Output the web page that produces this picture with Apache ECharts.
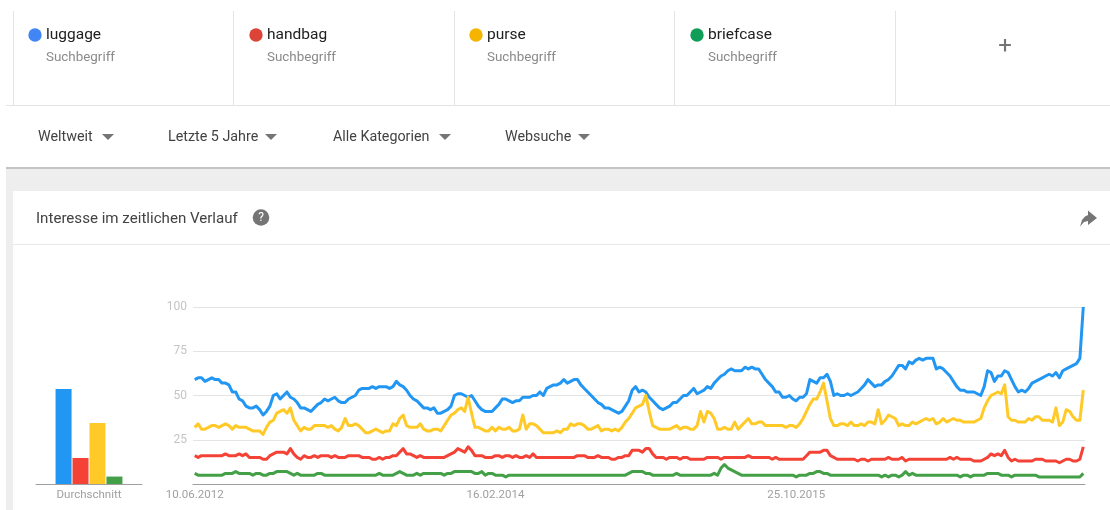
<!DOCTYPE html>
<html><head><meta charset="utf-8">
<style>html,body{margin:0;padding:0;background:#fff}#c{width:1110px;height:510px}</style>
<script src="https://cdn.jsdelivr.net/npm/echarts@6/dist/echarts.min.js"></script>
</head><body><div id="c"></div>
<script>
const terms = ['luggage','handbag','purse','briefcase'];
const termSub = 'Suchbegriff';
const filters = ['Weltweit','Letzte 5 Jahre','Alle Kategorien','Websuche'];
const cardTitle = 'Interesse im zeitlichen Verlauf';
const lineColors = ['#2196f3','#f44336','#ffca28','#43a047'];
const dotColors = ['#4285f4','#db4437','#f4b400','#0f9d58'];
const averages = [53.7,14.7,34.5,4.2];
const startDate = Date.UTC(2012,5,10);
const luggage = [
59,60,60,58,59,60,59,59,57,57,
56,52,52,48,47,44,43,43,44,42,
39,41,44,50,51,48,50,52,49,48,
46,43,43,42,41,43,45,46,48,47,
48,49,47,46,46,48,49,50,53,54,
54,54,55,54,55,55,55,54,55,58,
56,55,53,50,48,47,45,43,43,42,
43,40,40,41,42,44,50,51,51,50,
49,50,47,44,42,41,41,41,43,45,
48,48,47,46,47,47,49,49,49,50,
50,52,50,54,55,56,56,57,59,57,
58,59,59,56,54,52,50,48,46,45,
43,43,42,41,40,41,44,47,53,55,
52,53,52,49,47,45,43,42,43,44,
46,46,48,50,50,52,54,51,52,53,
55,54,57,59,61,62,64,65,64,64,
64,66,65,66,65,65,62,59,57,55,
52,52,49,49,50,48,47,49,49,51,
59,58,57,60,60,62,58,50,51,50,
50,51,50,51,52,54,56,59,57,55,
56,56,58,59,61,64,67,67,65,69,
68,70,71,70,71,71,71,65,66,65,
63,61,58,55,53,53,52,52,52,51,
50,55,64,63,58,61,61,64,63,59,
55,52,53,52,54,57,58,59,60,61,
62,61,63,60,64,65,66,67,68,71,
100];
const handbag = [
16,15,16,16,16,16,16,16,16,17,
16,16,16,17,16,17,15,15,15,15,
14,14,16,17,18,18,18,17,20,17,
15,14,16,15,15,16,15,16,16,16,
15,16,15,15,15,16,16,16,16,15,
15,15,14,14,15,14,15,15,16,16,
18,20,17,17,16,15,16,15,15,15,
15,15,15,15,16,17,18,20,19,18,
21,19,16,16,16,15,15,15,16,16,
15,16,16,15,16,15,15,16,15,17,
15,15,15,15,15,15,15,15,15,15,
15,15,16,16,16,15,15,15,16,15,
15,15,14,14,15,15,16,16,19,19,
19,18,20,20,17,15,15,15,14,15,
15,15,14,15,15,14,14,14,14,14,
15,15,15,15,14,15,15,15,15,15,
15,15,16,15,15,15,15,15,15,14,
15,14,14,14,14,14,14,14,14,16,
18,18,18,18,19,19,16,15,14,14,
14,14,14,14,13,14,14,13,14,14,
14,14,14,15,14,14,14,15,13,14,
14,14,14,14,14,14,14,14,14,14,
14,15,14,15,14,14,14,14,13,13,
13,14,15,17,16,17,16,19,15,13,
14,13,13,13,13,13,14,14,14,13,
13,13,13,12,13,14,14,13,13,14,
21];
const purse = [
32,34,31,31,32,33,33,32,33,34,
33,31,33,32,32,32,31,30,30,30,
28,32,35,36,40,41,42,40,43,36,
33,30,32,31,31,33,33,33,33,32,
33,31,30,32,37,33,33,34,33,31,
29,29,30,31,30,29,30,30,34,33,
37,39,33,32,32,32,34,31,30,30,
31,31,30,33,36,39,40,42,43,41,
49,40,32,32,31,30,30,32,30,32,
31,31,32,30,30,31,39,31,34,34,
33,31,29,29,29,29,30,29,31,31,
34,33,34,34,33,31,31,32,33,30,
31,31,30,31,30,32,35,37,40,43,
44,45,50,41,33,32,31,31,31,31,
32,33,31,32,32,31,31,33,41,35,
41,40,37,31,31,32,31,31,35,31,
33,35,37,34,34,35,35,33,33,33,
33,33,33,32,33,33,32,34,37,41,
45,48,48,52,57,47,37,33,33,34,
34,33,35,33,33,34,33,35,35,34,
42,34,36,39,38,37,33,34,33,33,
35,34,35,36,37,36,37,34,35,37,
35,36,37,36,36,35,35,35,35,36,
37,43,47,50,51,52,51,56,38,36,
36,35,35,35,37,36,38,38,36,36,
36,35,43,33,35,42,41,38,36,36,
53];
const briefcase = [
6,5,5,5,5,5,5,5,5,6,
6,6,7,6,6,6,6,5,6,6,
5,5,6,6,7,7,7,7,6,5,
6,5,5,5,5,5,6,6,5,5,
5,5,5,5,5,5,5,5,5,5,
5,5,5,5,6,5,5,5,5,6,
7,6,5,5,5,6,5,6,6,6,
6,6,6,5,6,6,7,7,7,7,
7,7,6,6,7,5,6,6,5,5,
5,4,5,5,5,5,5,5,5,5,
5,5,5,5,5,5,5,5,5,5,
5,5,5,5,5,5,5,5,5,5,
5,5,5,5,5,5,5,6,7,7,
7,7,6,6,5,5,5,5,5,5,
5,6,5,5,5,5,5,5,5,5,
5,5,6,5,9,11,9,8,7,6,
5,5,5,5,5,5,5,5,5,5,
5,5,5,5,5,5,4,5,5,5,
6,6,7,7,6,6,5,5,5,5,
5,5,5,5,5,5,5,5,5,5,
5,4,5,4,5,5,4,5,7,5,
6,5,5,5,5,5,5,5,5,5,
5,5,5,5,4,5,5,4,5,5,
5,5,6,6,6,6,5,5,5,4,
5,5,5,5,5,5,5,4,4,4,
4,4,4,4,4,4,4,4,4,4,
6];
const values = [luggage,handbag,purse,briefcase];
const weeks = luggage.map((_,i)=>{
  const d = new Date(startDate + i*7*864e5);
  return String(d.getUTCDate()).padStart(2,'0')+'.'+String(d.getUTCMonth()+1).padStart(2,'0')+'.'+d.getUTCFullYear();
});
const font = 'Roboto, sans-serif';
const g = [];
const rect = (x,y,w,h,fill)=>g.push({type:'rect',silent:true,shape:{x,y,width:w,height:h},style:{fill}});
const text = (x,y,t,size,fill,align)=>g.push({type:'text',silent:true,x,y,style:{text:t,fontFamily:font,fontSize:size,fill,align:align||'left',verticalAlign:'middle'}});
const tri = (x,y)=>g.push({type:'polygon',silent:true,shape:{points:[[x,y],[x+12,y],[x+6,y+6]]},style:{fill:'#757575'}});
// page frame
rect(6,168,1104,23,'#eeeeee');
rect(6,168,7,342,'#eeeeee');
rect(6,167,1104,2,'#c4c4c4');
rect(6,105,1104,1,'#e4e4e4');
rect(13,244,1097,1,'#e8e8e8');
[13,233,454,674,895].forEach(x=>rect(x,11,1,94,'#e4e4e4'));
// term cards
[29,250,470,691].forEach((x,i)=>{
  g.push({type:'circle',silent:true,shape:{cx:x+6,cy:35,r:6.7},style:{fill:dotColors[i]}});
  text(x+17,35.5,terms[i],15.5,'#212121');
  text(x+17,58,termSub,13.4,'#8a8a8a');
});
text(1005,47,'+',24,'#757575','center');
// filters
[[38,102],[168,265],[333,439],[505,578]].forEach((p,i)=>{
  text(p[0],137,filters[i],14.3,'#424242');
  tri(p[1],134);
});
// card head
text(36,219,cardTitle,15.1,'#424242');
g.push({type:'circle',silent:true,shape:{cx:261,cy:217.5,r:8.3},style:{fill:'#757575'}});
text(261,218,'?',12,'#fff','center');
g.push({type:'polygon',silent:true,shape:{points:[[1088,210.5],[1097,218],[1088,225],[1088,221],[1084,222],[1080,226.5],[1082,220],[1085,216.5],[1088,215]]},style:{fill:'#757575'}});
const option = {
  animation:false,
  textStyle:{fontFamily:font},
  graphic:g,
  grid:[
    {left:193,top:307,width:892,height:177},
    {left:36,top:307,width:106,height:177}
  ],
  xAxis:[
    {type:'category',gridIndex:0,data:weeks,boundaryGap:true,
      axisLine:{lineStyle:{color:'#9e9e9e',width:1}},axisTick:{show:false},
      axisLabel:{interval:87,color:'#a0a0a0',fontSize:11.5,margin:5,hideOverlap:false}},
    {type:'category',gridIndex:1,data:['Durchschnitt'],
      axisLine:{lineStyle:{color:'#9e9e9e',width:1}},axisTick:{show:false},
      axisLabel:{color:'#a0a0a0',fontSize:11.5,margin:5}}
  ],
  yAxis:[
    {type:'value',gridIndex:0,min:0,max:100,interval:25,
      axisLine:{show:false},axisTick:{show:false},
      splitLine:{lineStyle:{color:'#e4e4e4',width:1}},
      axisLabel:{color:'#c4c4c4',fontSize:12,margin:6,formatter:v=>v===0?'':String(v)}},
    {type:'value',gridIndex:1,min:0,max:100,show:false,splitLine:{show:false}}
  ],
  series:[
    ...terms.map((t,i)=>({name:t,type:'line',xAxisIndex:0,yAxisIndex:0,data:values[i],
      showSymbol:false,smooth:false,lineStyle:{color:lineColors[i],width:3,join:'round'},itemStyle:{color:lineColors[i]},z:3})),
    ...terms.map((t,i)=>({name:t+' avg',type:'bar',xAxisIndex:1,yAxisIndex:1,data:[averages[i]],
      barWidth:16,barGap:'6%',itemStyle:{color:lineColors[i]}}))
  ]
};
echarts.init(document.getElementById('c'),null,{renderer:'canvas'}).setOption(option);
</script></body></html>
